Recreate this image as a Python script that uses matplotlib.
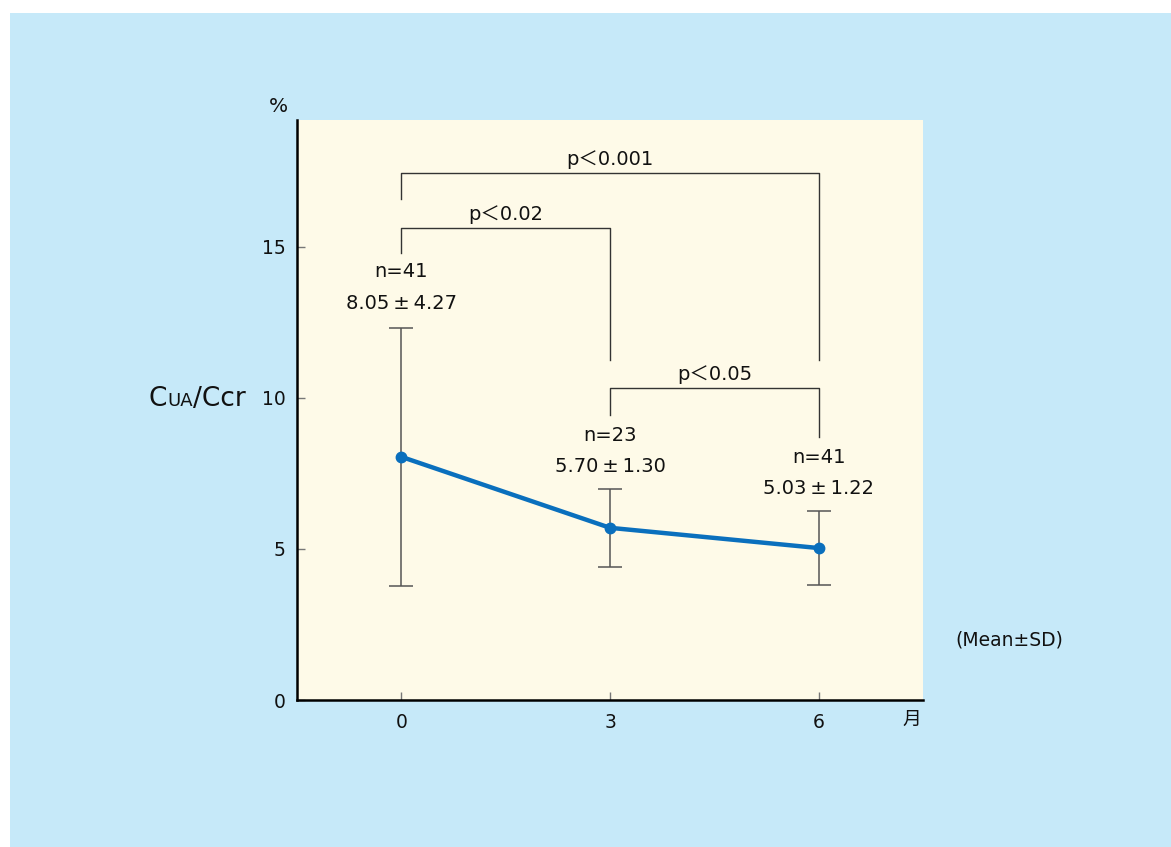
import matplotlib
matplotlib.use("Agg")
import matplotlib.pyplot as plt
from matplotlib.patches import Rectangle

plt.rcParams['font.family'] = ['DejaVu Sans', 'Noto Sans CJK JP']

months = [0, 3, 6]
means = [8.05, 5.70, 5.03]
sds = [4.27, 1.30, 1.22]
ns = [41, 23, 41]
yticks = [0, 5, 10, 15]

# significance brackets: (x_left, x_right, y_top, left leg bottom, right leg bottom, label)
brackets = [
    (0, 6, 17.43, 16.6, 11.25, "p＜0.001"),
    (0, 3, 15.62, 14.8, 11.25, "p＜0.02"),
    (3, 6, 10.32, 9.45, 8.7, "p＜0.05"),
]
# annotation label positions (n label y, mean label y)
label_y = [(14.19, 13.13), (8.77, 7.74), (8.04, 7.0)]

FS = 13.5
W, H = 1171, 847
fig = plt.figure(figsize=(W / 100, H / 100), dpi=100)
fig.patch.set_facecolor("white")
fig.patches.append(Rectangle((10 / W, 0), 1, (H - 13) / H, transform=fig.transFigure,
                             facecolor="#c6e9f9", edgecolor="none", zorder=-10))

ax = fig.add_axes([297 / W, (H - 700) / H, (923 - 297) / W, (700 - 120) / H])
ax.set_facecolor("#fefae8")
ax.set_xlim(-1.5, 7.5)
ax.set_ylim(0, 19.2)

for s in ["top", "right"]:
    ax.spines[s].set_visible(False)
for s in ["left", "bottom"]:
    ax.spines[s].set_linewidth(1.8)
    ax.spines[s].set_color("black")

ax.set_xticks(months)
ax.set_xticklabels([str(m) for m in months])
ax.set_yticks(yticks)
ax.set_yticklabels([str(v) for v in yticks])
ax.tick_params(direction="in", length=6, width=1, color="#777777", labelsize=FS,
               labelcolor="#111111")
ax.tick_params(axis="x", pad=9)
ax.tick_params(axis="y", pad=8)

ax.errorbar(months, means, yerr=sds, fmt="none", ecolor="#555555", elinewidth=1.1,
            capsize=8.5, capthick=1.1, zorder=2)
ax.plot(months, means, color="#0a6fbd", lw=3.2, marker="o", ms=7.5, zorder=3,
        solid_capstyle="round")

for (xl, xr, yt, yl, yr, lab) in brackets:
    ax.plot([xl, xl, xr, xr], [yl, yt, yt, yr], color="#333333", lw=1.0, zorder=1)
    ax.text((xl + xr) / 2, yt + 0.45, lab, ha="center", va="center", fontsize=14,
            color="#111111")

for m, mu, sd, n, (yn, ym) in zip(months, means, sds, ns, label_y):
    ax.text(m, yn, f"n={n}", ha="center", va="center", fontsize=14, color="#111111")
    ax.text(m, ym, f"{mu:.2f} ± {sd:.2f}".replace(" ", "\u2009"), ha="center",
            va="center", fontsize=14, color="#111111")

fig.text(278 / W, 1 - 107 / H, "%", ha="center", va="center", fontsize=14.5, color="#111111")
fig.text(912 / W, 1 - 719 / H, "月", ha="center", va="center", fontsize=FS, color="#111111")
fig.text(1009 / W, 1 - 640 / H, "(Mean±SD)", ha="center", va="center", fontsize=FS,
         color="#111111")

t1 = fig.text(149 / W, 1 - 406 / H, "C", ha="left", va="baseline", fontsize=19,
              color="#111111")
t2 = fig.text(0, 0, "UA", ha="left", va="baseline", fontsize=13, color="#111111")
t3 = fig.text(0, 0, "/Ccr", ha="left", va="baseline", fontsize=19, color="#111111")
fig.canvas.draw()
r = fig.canvas.get_renderer()
bb1 = t1.get_window_extent(r)
t2.set_position((bb1.x1 / W, 1 - 406 / H))
fig.canvas.draw()
bb2 = t2.get_window_extent(r)
t3.set_position((bb2.x1 / W, 1 - 406 / H))

fig.savefig("out.png", dpi=100, facecolor=fig.get_facecolor())
